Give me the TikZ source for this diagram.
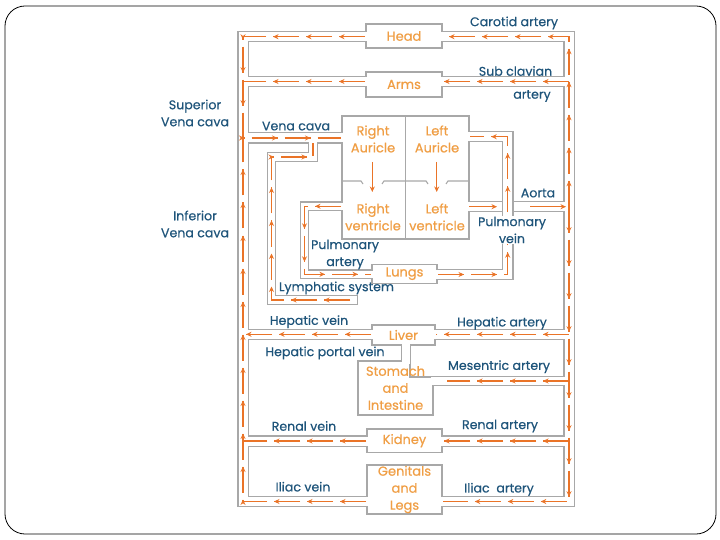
\documentclass[tikz,border=0pt]{standalone}
\usepackage{fontspec}
\setmainfont{Poppins}[FakeBold=0.5]
\usetikzlibrary{arrows.meta, positioning, calc, decorations.markings}
\definecolor{pipegray}{RGB}{168,168,168}
\definecolor{flowor}{RGB}{234,116,40}
\definecolor{organor}{RGB}{240,158,68}
\definecolor{labelblue}{RGB}{30,84,122}

\begin{document}
\begin{tikzpicture}[x=1pt, y=-1pt,
  wall/.style={draw=pipegray, line width=11.6pt},
  bore/.style={draw=white, line width=9pt},
  thinwall/.style={draw=pipegray, line width=9.8pt},
  thinbore/.style={draw=white, line width=7.2pt},
  organ/.style={draw=pipegray, line width=1.1pt, fill=white, text=organor, align=center,
    inner sep=0pt, font=\fontsize{13}{17}\selectfont},
  organtxt/.style={text=organor, align=center, inner sep=0pt, font=\fontsize{13}{17}\selectfont},
  lbl/.style={text=labelblue, align=center, inner sep=0pt, font=\fontsize{12.6}{17}\selectfont},
  flow/.style={draw=flowor, line width=1.2pt, dash pattern=on 26pt off 7pt,
    postaction={decorate, decoration={markings,
      mark=between positions 26pt and -1pt step 33pt with {\arrow{Stealth[length=5.5pt,width=5pt]}}}}},
  flowtip/.style={draw=flowor, line width=1.2pt, -{Stealth[length=5.5pt,width=5pt]}}]
\useasboundingbox (0,0) rectangle (720,540);
\draw[line width=0.8pt, rounded corners=20pt] (5,6) rectangle (716,534);

% pipe walls
\draw[wall] (243,36.7) rectangle (569,501.5);
\draw[wall] (243,81.5) -- (569,81.5);
\draw[wall] (243,138) -- (345,138);
\draw[wall] (466,206.7) -- (569,206.7);
\draw[wall] (243,334.3) -- (569,334.3);
\draw[wall] (243,441) -- (569,441);
\draw[thinwall] (410,381) -- (569,381);
\draw[thinwall] (345,206.3) -- (304.5,206.3) -- (304.5,274.3) -- (375,274.3);
\draw[thinwall] (358,300) -- (271.5,300) -- (271.5,157) -- (313,157) -- (313,140);
\draw[thinwall] (406,343) -- (406,363);

% organs
\node[organ, minimum width=76pt, minimum height=24pt] (head) at (404,36) {Head};
\node[organ, minimum width=76pt, minimum height=25pt] (arms) at (404,84.5) {Arms};
\node[organ, minimum width=127pt, minimum height=123pt] (heart) at (405.5,177.5) {};
\node[organ, minimum width=65pt, minimum height=19.3pt] (lungs) at (404.5,273.7) {Lungs};
\node[organ, minimum width=63pt, minimum height=20pt] (liver) at (403.5,335) {Liver};
\draw[draw=pipegray, line width=1.1pt, fill=white]
  (358,361) -- (410,361) -- (410,377) -- (433,377) -- (433,415) -- (358,415) -- cycle;
\node[organtxt] (stomach) at (395.5,388) {Stomach\\and\\Intestine};
\node[organ, minimum width=75pt, minimum height=23.5pt] (kidney) at (404.5,440.7) {Kidney};
\node[organ, minimum width=75pt, minimum height=49pt] (genitals) at (404.5,489.5) {Genitals\\and\\Legs};

% pipe bores
\draw[bore] (370,36.7) -- (243,36.7) -- (243,501.5) -- (370,501.5);
\draw[bore] (439,36.7) -- (569,36.7) -- (569,501.5) -- (439,501.5);
\draw[bore] (243,81.5) -- (369,81.5);
\draw[bore] (439,81.5) -- (569,81.5);
\draw[bore] (243,138) -- (345,138);
\draw[bore] (466,206.7) -- (569,206.7);
\draw[bore] (243,334.3) -- (375,334.3);
\draw[bore] (432,334.3) -- (569,334.3);
\draw[bore] (243,441) -- (370,441);
\draw[bore] (439,441) -- (569,441);
\draw[thinbore] (431,381) -- (569,381);
\draw[thinbore] (345,206.3) -- (304.5,206.3) -- (304.5,274.3) -- (375,274.3);
\draw[thinbore, shorten >=1.3pt] (313,140) -- (313,157) -- (271.5,157) -- (271.5,300) -- (358,300);
\draw[thinbore] (406,342) -- (406,364);

% heart chambers
\draw[pipegray, line width=1.1pt] (405.7,116) -- (405.7,239);
\draw[pipegray, line width=1.1pt] (342,181) -- (361,181) -- (363,184);
\draw[pipegray, line width=1.1pt] (382,184) -- (384,181) -- (426,181) -- (428,184);
\draw[pipegray, line width=1.1pt] (446,184) -- (448,181) -- (469,181);
\node[organtxt] (rauricle) at (373,139) {Right\\Auricle};
\node[organtxt] (lauricle) at (437,139) {Left\\Auricle};
\node[organtxt] (rventricle) at (373,217) {Right\\ventricle};
\node[organtxt] (lventricle) at (437,217) {Left\\ventricle};
\draw[flowtip] (372.3,162) -- (372.3,192);
\draw[flowtip] (436.7,162) -- (436.7,192);

% aorta
\draw[flowtip] (469,206.7) -- (497,206.7);
\draw[flowtip] (530,206.7) -- (566,206.7);

% pulmonary vein passes over the aorta
\draw[wall] (437,274.5) -- (507.7,274.5) -- (507.7,136.7) -- (469,136.7);
\draw[bore, shorten <=-1.5pt, shorten >=-1.5pt] (437,274.5) -- (507.7,274.5) -- (507.7,136.7) -- (469,136.7);

% blood flow
\draw[flow] (569,206.7) -- (569,36.7) -- (443,36.7);
\draw[flow] (569,81.5) -- (443,81.5);
\draw[flow] (365,36.7) -- (243,36.7) -- (243,138);
\draw[flow] (365,81.5) -- (243,81.5);
\draw[flow] (366,501.5) -- (243,501.5) -- (243,138) -- (341,138);
\draw[flow] (569,206.7) -- (569,501.5) -- (443,501.5);
\draw[flow] (569,334.3) -- (436,334.3);
\draw[flow] (371,334.3) -- (243,334.3);
\draw[flow] (569,381) -- (447,381);
\draw[flow] (569,441) -- (443,441);
\draw[flow] (366,441) -- (243,441);
\draw[flow] (350,300) -- (271.5,300) -- (271.5,157) -- (313,157) -- (313,143);
\draw[flow] (341,206.3) -- (304.5,206.3) -- (304.5,274.3) -- (371,274.3);
\draw[flow] (438,274.5) -- (507.7,274.5) -- (507.7,136.7) -- (470,136.7);

% labels
\node[lbl] (carotid) at (514,23) {Carotid artery};
\node[lbl] (subclav) at (515.5,71) {Sub clavian};
\node[lbl] (subclav2) at (532,96) {artery};
\node[lbl] (svc) at (195,113) {Superior\\Vena cava};
\node[lbl] (ivc) at (195,224) {Inferior\\Vena cava};
\node[lbl] (venacava) at (296,126) {Vena cava};
\node[lbl] (aorta) at (538,193) {Aorta};
\node[lbl, fill=white, inner ysep=1pt] (pvein) at (512,230) {Pulmonary\\vein};
\node[lbl] (partery) at (345,254.5) {Pulmonary\\artery};
\node[lbl] (lymph) at (336.5,288) {Lymphatic system};
\node[lbl] (hvein) at (309,321.7) {Hepatic vein};
\node[lbl] (hartery) at (502,323.3) {Hepatic artery};
\node[lbl] (portal) at (325,353) {Hepatic portal vein};
\node[lbl] (mesentric) at (499,366.7) {Mesentric artery};
\node[lbl] (rvein) at (304,426) {Renal vein};
\node[lbl] (rartery) at (500,426) {Renal artery};
\node[lbl] (ivein) at (303,486.7) {Iliac vein};
\node[lbl] (iartery) at (499,489.3) {Iliac\ \ artery};
\end{tikzpicture}
\end{document}
